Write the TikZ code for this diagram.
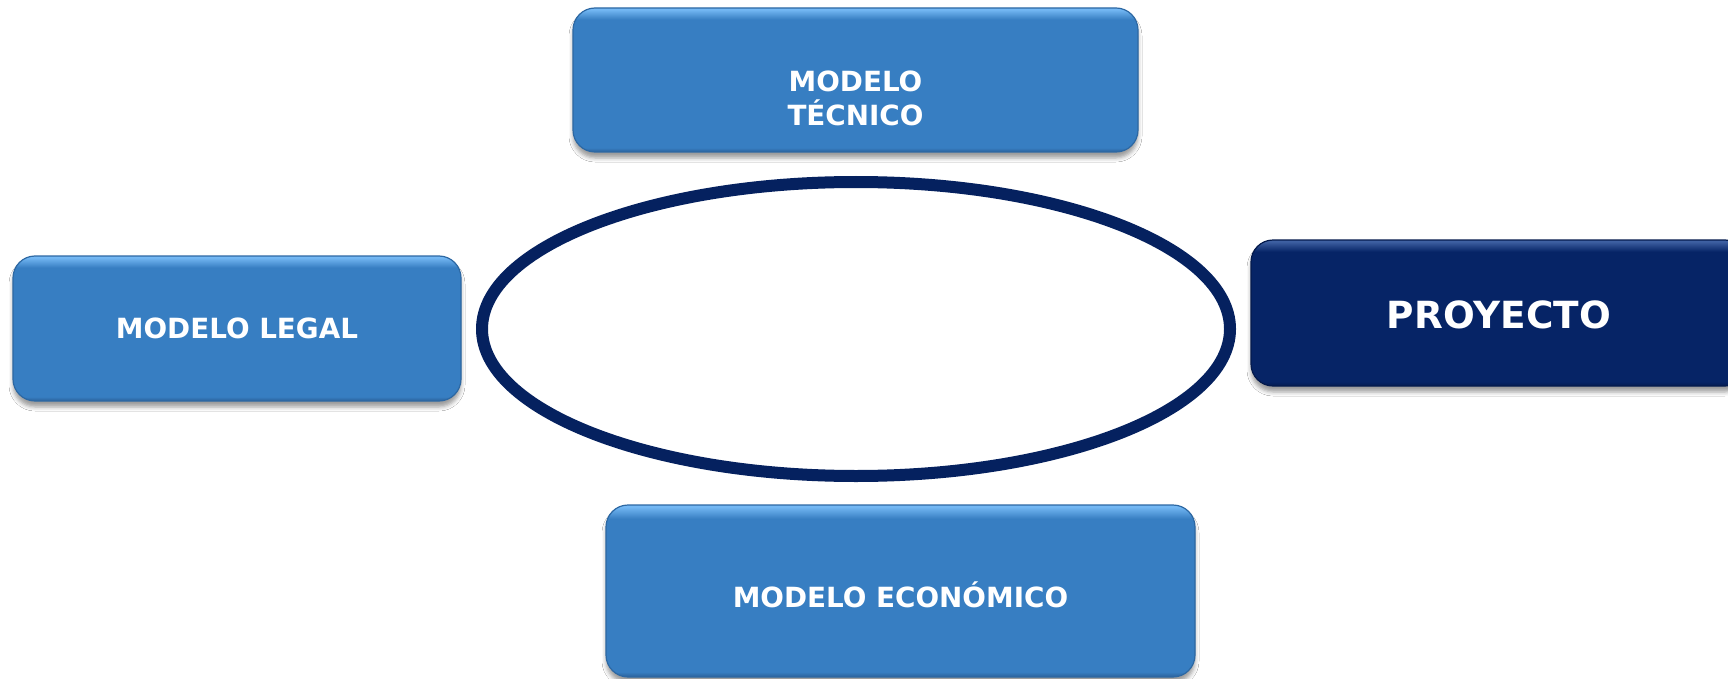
\documentclass[tikz,border=0pt]{standalone}
\usepackage{fontspec}
\setmainfont{DejaVu Sans}
\usetikzlibrary{shapes.geometric,shadows.blur}
\definecolor{bmain}{HTML}{377EC2}
\definecolor{btop}{HTML}{74B8F4}
\definecolor{bbot}{HTML}{2A619A}
\definecolor{bedge}{HTML}{2D68A3}
\definecolor{nmain}{HTML}{062466}
\definecolor{ntop}{HTML}{3E60A2}
\definecolor{nbot}{HTML}{041B50}
\definecolor{nedge}{HTML}{041A4C}
\definecolor{ering}{HTML}{05215F}
\pgfdeclareverticalshading{blueshade}{100bp}{color(0bp)=(bbot); color(25bp)=(bbot); color(26.5bp)=(bmain); color(71bp)=(bmain); color(74.5bp)=(btop); color(100bp)=(btop)}
\pgfdeclareverticalshading{navyshade}{100bp}{color(0bp)=(nbot); color(25bp)=(nbot); color(26.5bp)=(nmain); color(71bp)=(nmain); color(74.5bp)=(ntop); color(100bp)=(ntop)}
\tikzset{
  boxbase/.style={rectangle, rounded corners=22pt, inner sep=0pt, line width=1.2pt,
    blur shadow={shadow xshift=0pt, shadow yshift=-6pt, shadow blur radius=4pt, shadow opacity=38}},
  bluebox/.style={boxbase, shading=blueshade, draw=bedge},
  navybox/.style={boxbase, shading=navyshade, draw=nedge},
  boxtext/.style={text=white, font=\bfseries\fontsize{27.8}{34}\selectfont, align=center},
  bigtext/.style={text=white, font=\bfseries\fontsize{37.4}{44}\selectfont, align=center},
}
\begin{document}
\begin{tikzpicture}[x=1pt,y=-1pt]
\useasboundingbox (0,0) rectangle (1728,679);
\clip (0,0) rectangle (1728,679);
\fill[white] (0,0) rectangle (1728,679);
% ring
\node[draw=ering, line width=12pt, ellipse, minimum width=748pt, minimum height=294pt, inner sep=0pt, fill=white] (ring) at (856,329) {};
% boxes
\node[bluebox, minimum width=565pt, minimum height=144pt] (tec) at (855.5,80) {};
\node[boxtext] (tect) at (855.5,98) {MODELO\\TÉCNICO};
\node[bluebox, minimum width=448pt, minimum height=145pt, boxtext] (leg) at (237,328.5) {MODELO LEGAL};
\node[bluebox, minimum width=589pt, minimum height=172pt] (eco) at (900.5,591) {};
\node[boxtext] (ecot) at (900.5,595) {MODELO ECONÓMICO};
\node[navybox, minimum width=496pt, minimum height=146pt] (pro) at (1499,313) {};
\node[bigtext] (prot) at (1499,315) {PROYECTO};
\end{tikzpicture}
\end{document}
